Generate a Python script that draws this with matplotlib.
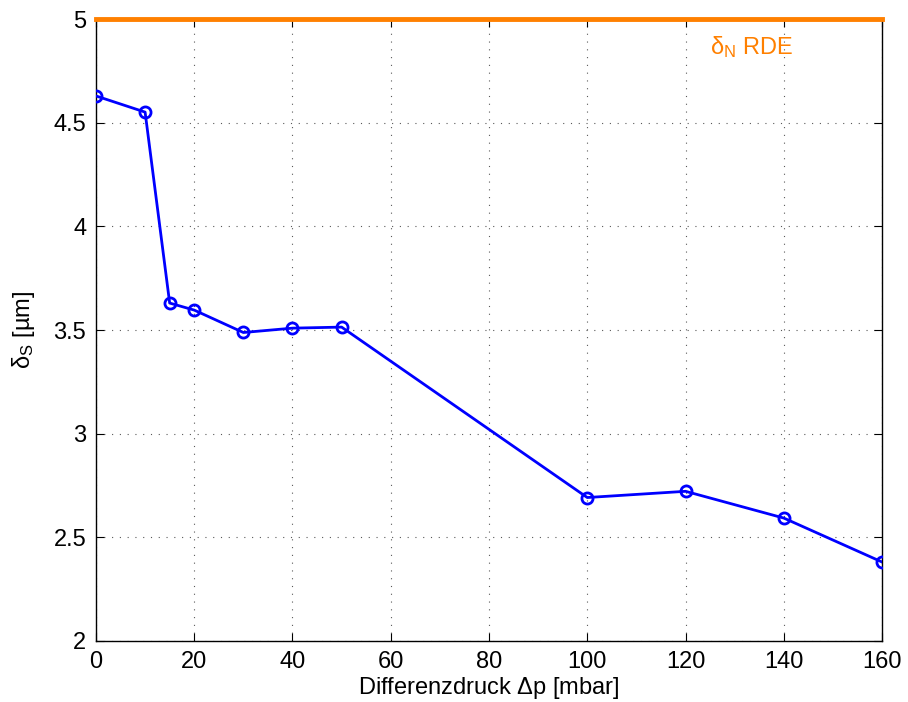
import matplotlib.pyplot as plt

plt.rcParams['font.family'] = ['Liberation Sans', 'DejaVu Sans']
plt.rcParams['mathtext.fontset'] = 'custom'
plt.rcParams['mathtext.rm'] = 'Liberation Sans'
plt.rcParams['mathtext.it'] = 'Liberation Sans'

dp = [0, 10, 15, 20, 30, 40, 50, 100, 120, 140, 160]
delta_s = [4.629, 4.551, 3.630, 3.596, 3.488, 3.509, 3.514, 2.692, 2.722, 2.593, 2.381]
delta_n_rde = 5.0

fig = plt.figure(figsize=(9.08, 7.02), dpi=100)
ax = fig.add_axes([0.1057, 0.0869, 0.8657, 0.886])

ax.plot(dp, delta_s, color='#0000ff', linewidth=2.0, marker='o', markersize=8,
        markerfacecolor='none', markeredgewidth=2.0, zorder=3)
ax.axhline(delta_n_rde, color='#ff8000', linewidth=3.5, zorder=4, clip_on=False)
ax.text(125, 4.865, r'$\mathrm{δ}_\mathrm{N}$ RDE', color='#ff8000', fontsize=17,
        va='center', ha='left')

ax.set_xlim(0, 160)
ax.set_ylim(2, 5)
ax.set_xticks(range(0, 161, 20))
ax.set_yticks([2, 2.5, 3, 3.5, 4, 4.5, 5])
ax.set_yticklabels(['2', '2.5', '3', '3.5', '4', '4.5', '5'])
ax.grid(True, linestyle=(0, (1, 6)), color='0.35', linewidth=0.8)
ax.tick_params(direction='in', length=6, top=True, right=True, labelsize=17, pad=7)
for s in ax.spines.values():
    s.set_linewidth(1.0)

ax.set_xlabel(r'Differenzdruck $\mathrm{Δ}$p [mbar]', fontsize=17, labelpad=2)
ax.set_ylabel(r'$\mathrm{δ}_\mathrm{S}$ [µm]', fontsize=17, labelpad=12)

fig.savefig('out.png', dpi=100)
